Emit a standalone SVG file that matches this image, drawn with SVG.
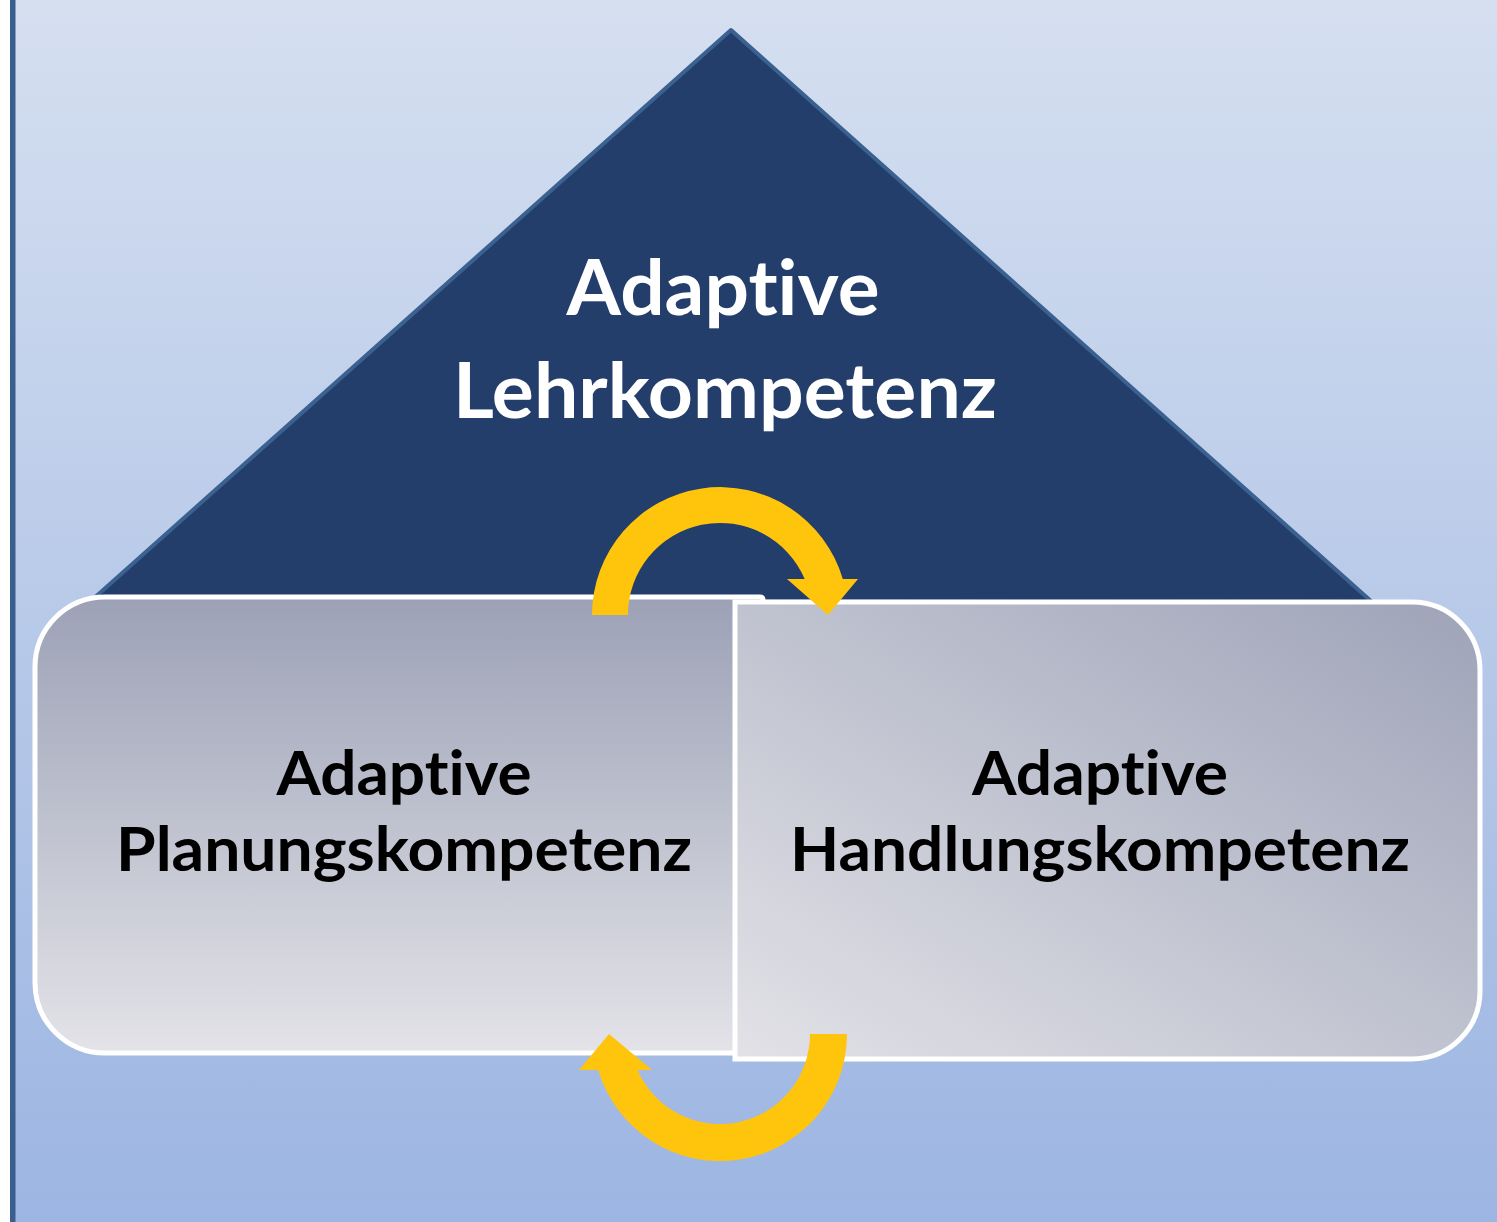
<svg xmlns="http://www.w3.org/2000/svg" width="1497" height="1222" viewBox="0 0 1497 1222">
  <defs>
    <linearGradient id="bg" x1="0" y1="0" x2="0" y2="1">
      <stop offset="0" stop-color="#d5dff0"/>
      <stop offset="1" stop-color="#9cb5e2"/>
    </linearGradient>
    <linearGradient id="gLeft" x1="0" y1="0" x2="0" y2="1">
      <stop offset="0" stop-color="#9ca1b6"/>
      <stop offset="1" stop-color="#e3e3e8"/>
    </linearGradient>
    <linearGradient id="gRight" x1="0" y1="1" x2="1" y2="0">
      <stop offset="0" stop-color="#e2e2e7"/>
      <stop offset="1" stop-color="#9ea3b8"/>
    </linearGradient>
  </defs>
  <style>
    .lbl { font-family: "Lato", "Open Sans", "Liberation Sans", sans-serif; font-weight: 700; text-anchor: middle; font-variant-ligatures: none; font-feature-settings: "liga" 0, "clig" 0, "dlig" 0; }
    .white { fill: #ffffff; font-size: 77px; }
    .black { fill: #000000; font-size: 62px; }
    .box { stroke: #ffffff; stroke-width: 5; }
    .arrow { fill: #ffc40c; }
  </style>

  <rect x="0" y="0" width="1497" height="1222" fill="#ffffff"/>
  <rect x="13" y="0" width="1484" height="1222" fill="url(#bg)"/>
  <rect x="10" y="0" width="5.5" height="1222" fill="#3a5f8f"/>

  <g id="lehrkompetenz">
    <polygon points="731,30 92,600 1372,602" fill="#243e6b" stroke="#3b6190" stroke-width="4" stroke-linejoin="round"/>
    <text class="lbl white" x="723" y="315" textLength="313" lengthAdjust="spacingAndGlyphs">Adaptive</text>
    <text class="lbl white" x="725" y="418" textLength="544" lengthAdjust="spacingAndGlyphs">Lehrkompetenz</text>
  </g>

  <g id="planungskompetenz">
    <path class="box" fill="url(#gLeft)" d="M105 597 L760 597 Q763 597 763 600 L763 1053 L105 1053 A70 70 0 0 1 35 983 L35 667 A70 70 0 0 1 105 597 Z"/>
    <text class="lbl black" x="404" y="795" textLength="255" lengthAdjust="spacingAndGlyphs">Adaptive</text>
    <text class="lbl black" x="404" y="871" textLength="576" lengthAdjust="spacingAndGlyphs">Planungskompetenz</text>
  </g>

  <g id="handlungskompetenz">
    <path class="box" fill="url(#gRight)" d="M735 602 L1412 602 A68 68 0 0 1 1480 670 L1480 991 A68 68 0 0 1 1412 1059 L735 1059 Z"/>
    <text class="lbl black" x="1100" y="795" textLength="256" lengthAdjust="spacingAndGlyphs">Adaptive</text>
    <text class="lbl black" x="1100" y="871" textLength="620" lengthAdjust="spacingAndGlyphs">Handlungskompetenz</text>
  </g>

  <g id="connectors">
    <path class="arrow" d="M592 615 A128 128 0 0 1 842.8 579 L858 579 L828 615 L787 579 L804.7 579 A92 92 0 0 0 628 615 Z"/>
    <path class="arrow" d="M847 1034 A127 127 0 0 1 598.2 1070 L579 1070 L609 1034 L652 1070 L637.5 1070 A90 90 0 0 0 810 1034 Z"/>
  </g>
</svg>
